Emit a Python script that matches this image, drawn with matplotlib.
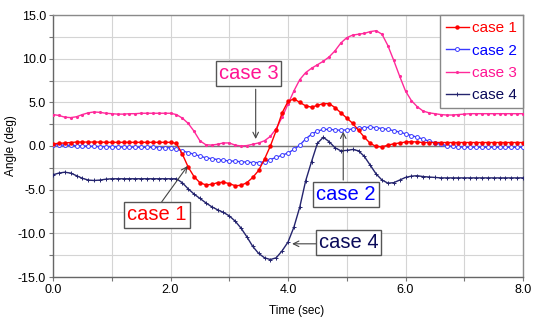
import numpy as np
import matplotlib
matplotlib.use("Agg")
import matplotlib.pyplot as plt
from matplotlib.ticker import MultipleLocator, FormatStrFormatter
from matplotlib.legend_handler import HandlerLine2D

plt.rcParams['font.family'] = ['Liberation Sans', 'DejaVu Sans']

time = np.round(np.arange(0, 81) * 0.1, 1)

case1 = [0.25, 0.3, 0.35, 0.4, 0.45, 0.45, 0.45, 0.45, 0.45, 0.42,
         0.42, 0.42, 0.42, 0.42, 0.42, 0.42, 0.42, 0.42, 0.42, 0.42,
         0.42, 0.3, -0.9, -2.4, -3.5, -4.2, -4.45, -4.4, -4.2, -4.15,
         -4.3, -4.55, -4.5, -4.2, -3.6, -2.8, -1.5, 0.0, 1.8, 3.8,
         5.1, 5.4, 5.0, 4.6, 4.45, 4.65, 4.85, 4.85, 4.4, 3.8,
         3.2, 2.6, 1.8, 1.0, 0.3, -0.05, -0.1, 0.1, 0.25, 0.35,
         0.45, 0.5, 0.45, 0.4, 0.4, 0.4, 0.4, 0.4, 0.4, 0.4,
         0.4, 0.4, 0.4, 0.4, 0.4, 0.4, 0.4, 0.4, 0.4, 0.4, 0.4]

case2 = [0.15, 0.12, 0.1, 0.07, 0.05, 0.0, -0.02, -0.05, -0.07, -0.08,
         -0.1, -0.1, -0.12, -0.13, -0.14, -0.15, -0.15, -0.17, -0.18, -0.2,
         -0.2, -0.35, -0.55, -0.75, -0.95, -1.15, -1.35, -1.45, -1.55, -1.65,
         -1.7, -1.75, -1.8, -1.85, -1.9, -1.9, -1.8, -1.55, -1.3, -1.05,
         -0.8, -0.4, 0.1, 0.8, 1.35, 1.7, 1.9, 1.9, 1.85, 1.8,
         1.85, 1.95, 2.05, 2.1, 2.15, 2.1, 2.0, 1.9, 1.75, 1.6,
         1.4, 1.2, 1.0, 0.8, 0.55, 0.35, 0.2, 0.05, -0.05, -0.1,
         -0.15, -0.15, -0.15, -0.15, -0.15, -0.15, -0.15, -0.15, -0.15, -0.15, -0.15]

case3 = [3.6, 3.5, 3.3, 3.25, 3.35, 3.6, 3.8, 3.9, 3.85, 3.75,
         3.7, 3.65, 3.65, 3.7, 3.7, 3.75, 3.75, 3.75, 3.75, 3.75,
         3.75, 3.6, 3.2, 2.6, 1.7, 0.6, 0.15, 0.1, 0.2, 0.35,
         0.35, 0.1, 0.0, 0.05, 0.2, 0.35, 0.6, 1.1, 2.0, 3.3,
         4.8, 6.3, 7.6, 8.4, 8.9, 9.3, 9.7, 10.2, 10.9, 11.8,
         12.4, 12.7, 12.8, 12.9, 13.1, 13.2, 12.8, 11.5, 9.8, 8.0,
         6.3, 5.2, 4.5, 4.0, 3.8, 3.7, 3.6, 3.55, 3.55, 3.6,
         3.65, 3.7, 3.7, 3.7, 3.7, 3.7, 3.7, 3.7, 3.7, 3.7, 3.7]

case4 = [-3.3, -3.1, -3.0, -3.1, -3.4, -3.7, -3.9, -3.95, -3.9, -3.8,
         -3.75, -3.75, -3.75, -3.75, -3.75, -3.75, -3.75, -3.75, -3.75, -3.75,
         -3.75, -3.75, -4.2, -4.9, -5.5, -6.0, -6.5, -6.95, -7.3, -7.6,
         -8.0, -8.6, -9.4, -10.4, -11.5, -12.3, -12.8, -13.0, -12.8, -12.0,
         -11.0, -9.3, -7.0, -4.0, -1.8, 0.3, 1.0, 0.5, -0.2, -0.55,
         -0.5, -0.4, -0.55, -1.2, -2.2, -3.2, -3.9, -4.25, -4.2, -3.9,
         -3.6, -3.45, -3.4, -3.5, -3.55, -3.6, -3.65, -3.65, -3.65, -3.65,
         -3.65, -3.65, -3.65, -3.65, -3.65, -3.65, -3.65, -3.65, -3.65, -3.65, -3.65]

labels = ["case 1", "case 2", "case 3", "case 4"]
colors = ["#ff0000", "#3a3aff", "#ff2a9a", "#24246e"]
text_colors = ["#ff0000", "#0000ff", "#ff1493", "#0a0a5a"]


class LeftMarkerHandler(HandlerLine2D):
    def get_xdata(self, legend, xdescent, ydescent, width, height, fontsize):
        xdata, _ = super().get_xdata(legend, xdescent, ydescent, width, height, fontsize)
        return xdata, np.array([xdata[0] + 1.5])


fig = plt.figure(figsize=(5.33, 3.21), dpi=100)
ax = fig.add_axes([53/533, 44/321, 470/533, 262/321])

lines = []
lines += ax.plot(time, case1, color=colors[0], lw=1.0, marker='o', ms=2.2, mec=colors[0], mfc=colors[0], label=labels[0], zorder=5)
lines += ax.plot(time, case2, color=colors[1], lw=1.0, marker='o', ms=2.8, mec=colors[1], mfc='white', mew=0.7, label=labels[1], zorder=4)
lines += ax.plot(time, case3, color=colors[2], lw=1.0, marker='.', ms=2.5, label=labels[2], zorder=3)
lines += ax.plot(time, case4, color=colors[3], lw=1.0, marker='+', ms=3, mew=0.7, label=labels[3], zorder=3)

ax.set_xlim(0, 8)
ax.set_ylim(-15, 15)
ax.xaxis.set_major_locator(MultipleLocator(2))
ax.xaxis.set_minor_locator(MultipleLocator(1))
ax.yaxis.set_major_locator(MultipleLocator(5))
ax.yaxis.set_minor_locator(MultipleLocator(2.5))
ax.xaxis.set_major_formatter(FormatStrFormatter('%.1f'))
ax.yaxis.set_major_formatter(FormatStrFormatter('%.1f'))
ax.grid(True, which='both', color='#d4d4d4', lw=0.8, zorder=0)
ax.set_axisbelow(True)
ax.axhline(0, color='#777777', lw=1.0, zorder=1)
ax.tick_params(which='both', direction='out', length=3, width=0.8, color='#777777', labelsize=9, pad=2)
for s in ax.spines.values():
    s.set_color('#8a8a8a')
    s.set_linewidth(1.0)
ax.spines['left'].set_color('#666666')
ax.spines['bottom'].set_color('#666666')

ax.set_xlabel("Time (sec)", fontsize=8.5)
ax.xaxis.set_label_coords((297 - 53) / 470, -(305 - 277) / 262)
ax.set_ylabel("Angle (deg)", fontsize=8.5)
ax.yaxis.set_label_coords(-(53 - 17) / 470, 0.5)

leg = ax.legend(loc='upper right', fontsize=11, handlelength=1.5, handletextpad=0.2,
                borderaxespad=0.0, labelspacing=0.55, fancybox=False, framealpha=1,
                edgecolor='#888888', borderpad=0.4, markerscale=1.0,
                handler_map={ln: LeftMarkerHandler(numpoints=1) for ln in lines})
for txt, c in zip(leg.get_texts(), text_colors):
    txt.set_color(c)
leg.get_frame().set_linewidth(1.0)

box = dict(boxstyle='square,pad=0.15', fc='white', ec='#555555', lw=1.0)
arr = dict(arrowstyle='->', color='#444444', lw=0.8, shrinkA=0, shrinkB=0)
fs = 14.5

# label boxes
ax.text(3.33, 8.25, labels[2], fontsize=fs, color=text_colors[2], ha='center', va='center', bbox=box, zorder=10)
ax.text(1.77, -7.9, labels[0], fontsize=fs, color=text_colors[0], ha='center', va='center', bbox=box, zorder=10)
ax.text(4.99, -5.6, labels[1], fontsize=fs, color=text_colors[1], ha='center', va='center', bbox=box, zorder=10)
ax.text(5.03, -11.1, labels[3], fontsize=fs, color=text_colors[3], ha='center', va='center', bbox=box, zorder=10)

# arrows
ax.annotate('', xy=(3.45, 0.8), xytext=(3.45, 6.5), arrowprops=arr, zorder=9)
ax.annotate('', xy=(2.29, -2.3), xytext=(1.85, -6.4), arrowprops=arr, zorder=9)
ax.annotate('', xy=(4.94, 1.64), xytext=(4.94, -3.9), arrowprops=arr, zorder=9)
ax.annotate('', xy=(4.07, -11.2), xytext=(4.52, -11.2), arrowprops=arr, zorder=9)

fig.savefig("out.png", dpi=100)
